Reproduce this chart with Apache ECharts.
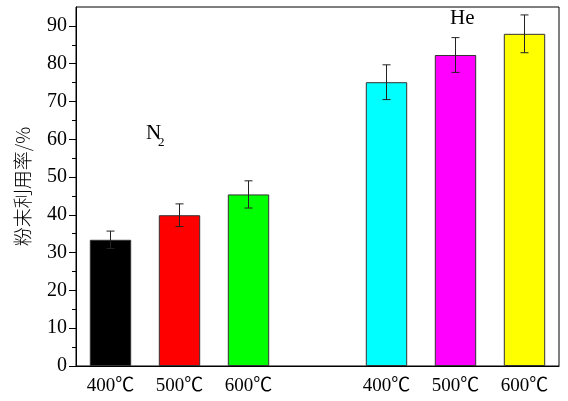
<!DOCTYPE html>
<html>
<head>
<meta charset="utf-8">
<script src="https://cdn.jsdelivr.net/npm/echarts@6/dist/echarts.min.js"></script>
<style>html,body{margin:0;padding:0;background:#fff}#c{width:568px;height:401px}</style>
</head>
<body>
<div id="c"></div>
<script>
var categories = ['400℃', '500℃', '600℃', '', '400℃', '500℃', '600℃'];
var values = [33.4, 39.9, 45.4, null, 75.1, 82.3, 87.9];
var errors = [2.3, 3.0, 3.6, null, 4.6, 4.6, 5.0];
var colors = ['#000000', '#ff0000', '#00ff00', null, '#00ffff', '#ff00ff', '#ffff00'];
var majorTicks = [0, 10, 20, 30, 40, 50, 60, 70, 80, 90];
var minorTicks = [5, 15, 25, 35, 45, 55, 65, 75, 85];
var yName = '粉末利用率/%';
var groupLabels = ['N', '2', 'He'];

var serif = '"Liberation Serif", "Noto Sans CJK SC", serif';
var chart = echarts.init(document.getElementById('c'), null, {renderer: 'canvas'});

var barData = values.map(function (v, i) {
  if (v == null) return '-';
  return {value: v, itemStyle: {color: colors[i]}};
});
var errData = values.map(function (v, i) {
  if (v == null) return [i, '-', '-'];
  return [i, v - errors[i], v + errors[i]];
});

chart.setOption({
  animation: false,
  backgroundColor: '#fff',
  grid: {left: 76, right: 9, top: 7, bottom: 35, show: true, borderColor: '#000', borderWidth: 1, backgroundColor: 'transparent'},
  xAxis: {
    type: 'category',
    data: categories,
    boundaryGap: true,
    axisLine: {lineStyle: {color: '#000', width: 1}},
    axisTick: {show: false},
    axisLabel: {color: '#000', fontFamily: serif, fontSize: 19, margin: 11}
  },
  yAxis: [{
    type: 'value',
    min: 0, max: 95,
    interval: 10,
    name: yName,
    nameLocation: 'middle',
    nameGap: 44,
    nameTextStyle: {color: '#000', fontFamily: 'Noto Sans CJK SC', fontSize: 19, fontWeight: 300},
    axisLine: {show: true, lineStyle: {color: '#000', width: 1}},
    axisTick: {show: true, inside: false, length: 7, lineStyle: {color: '#000'}, customValues: majorTicks},
    axisLabel: {color: '#000', fontFamily: serif, fontSize: 20, margin: 9, customValues: majorTicks},
    splitLine: {show: false}
  }, {
    type: 'value',
    position: 'left',
    min: 0, max: 95,
    interval: 5,
    axisLine: {show: false},
    axisTick: {show: true, inside: false, length: 4, lineStyle: {color: '#000'}, customValues: minorTicks},
    axisLabel: {show: false},
    splitLine: {show: false}
  }],
  series: [{
    type: 'bar',
    data: barData,
    barWidth: '60%',
    itemStyle: {borderColor: '#333', borderWidth: 1}
  }, {
    type: 'custom',
    data: errData,
    z: 10,
    encode: {x: 0, y: [1, 2]},
    renderItem: function (params, api) {
      var lo = api.value(1), hi = api.value(2);
      if (isNaN(lo) || isNaN(hi)) return;
      var p1 = api.coord([api.value(0), lo]);
      var p2 = api.coord([api.value(0), hi]);
      var hw = 4;
      var st = {stroke: '#222', lineWidth: 1, fill: null};
      return {
        type: 'group',
        children: [
          {type: 'line', shape: {x1: p1[0], y1: p1[1], x2: p2[0], y2: p2[1]}, style: st},
          {type: 'line', shape: {x1: p1[0] - hw, y1: p1[1], x2: p1[0] + hw, y2: p1[1]}, style: st},
          {type: 'line', shape: {x1: p2[0] - hw, y1: p2[1], x2: p2[0] + hw, y2: p2[1]}, style: st}
        ]
      };
    }
  }],
  graphic: [
    {type: 'text', left: 146, top: 123, style: {text: groupLabels[0], font: '21px ' + serif, fill: '#000'}},
    {type: 'text', left: 158, top: 136, style: {text: groupLabels[1], font: '13px ' + serif, fill: '#000'}},
    {type: 'text', left: 450, top: 8, style: {text: groupLabels[2], font: '21px ' + serif, fill: '#000'}}
  ]
});
</script>
</body>
</html>
